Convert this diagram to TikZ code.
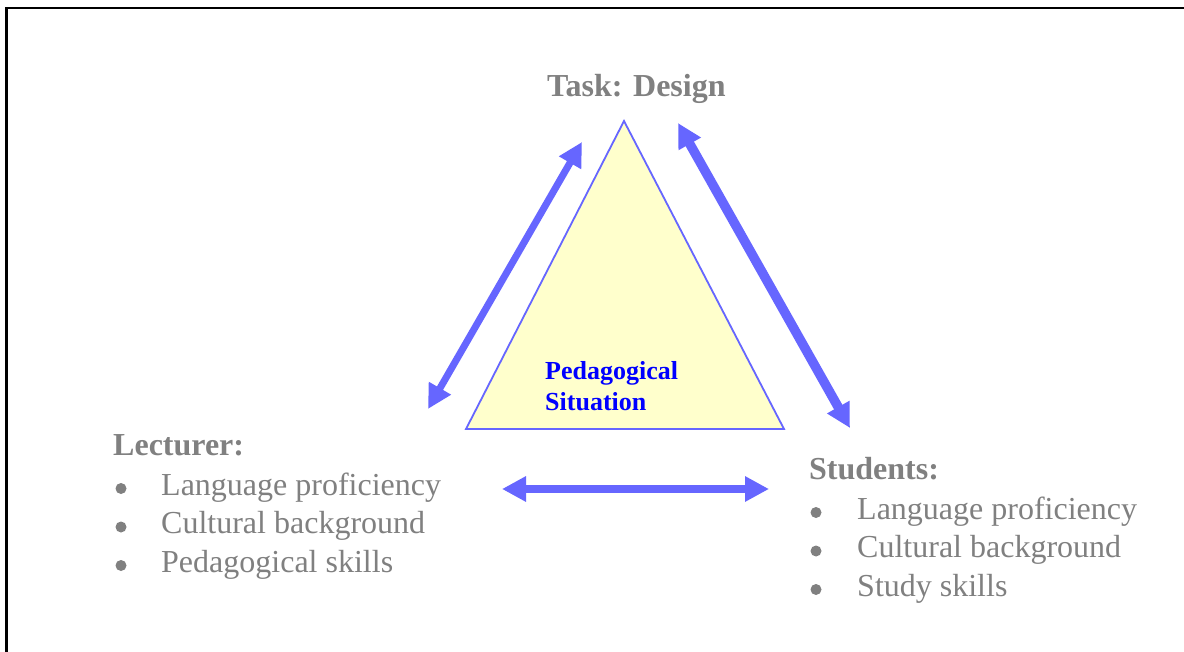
\documentclass[tikz,border=0pt]{standalone}
\usepackage{fontspec}
\setmainfont{Liberation Serif}
\usetikzlibrary{arrows.meta}
\definecolor{arrowblue}{HTML}{6666FF}
\definecolor{trifill}{HTML}{FFFFCC}
\definecolor{txtgray}{HTML}{808080}
\definecolor{txtblue}{HTML}{0000FF}
\tikzset{
  biarrow/.style={draw=arrowblue, line width=8pt, {Triangle[length=24pt,width=24pt]}-{Triangle[length=24pt,width=24pt]}},
  heading/.style={anchor=base west, inner sep=0pt, text=txtgray, font=\fontsize{32}{38}\selectfont\bfseries},
  item/.style={anchor=base west, inner sep=0pt, text=txtgray, font=\fontsize{32}{38}\selectfont},
  bulletmark/.style={circle, fill=txtgray, inner sep=0pt, minimum size=11pt},
  centertext/.style={anchor=base west, inner sep=0pt, text=txtblue, font=\fontsize{26}{30}\selectfont\bfseries, align=left},
}
\begin{document}
\begin{tikzpicture}[x=1pt,y=-1pt]
\useasboundingbox (0,0) rectangle (1184,652);
\fill[white] (0,0) rectangle (1184,652);
% frame (only top and left edges fall inside the picture)
\coordinate (fb) at (6.5,652);
\coordinate (fc) at (6.5,7.8);
\coordinate (fr) at (1184,7.8);
\draw[line width=2.2pt] (fb) -- (fc) -- (fr);
% triangle
\coordinate (apex) at (624,121);
\coordinate (bl) at (466,429);
\coordinate (br) at (784,429);
\draw[draw=arrowblue, fill=trifill, line width=1.8pt, line join=miter] (apex) -- (br) -- (bl) -- cycle;
\node[centertext] (ped) at (545,380) {Pedagogical};
\node[centertext] (sit) at (545,410) {Situation};
% headings
\node[heading] (task) at (547,97) {Task: Design};
\node[heading] (lect) at (113,455.5) {Lecturer:};
\node[heading] (stud) at (809,479) {Students:};
% lecturer items
\node[bulletmark] (lb1) at (121,488.5) {};
\node[item] (li1) at (161,495) {Language proficiency};
\node[bulletmark] (lb2) at (121,527) {};
\node[item] (li2) at (161,533.5) {Cultural background};
\node[bulletmark] (lb3) at (121,565.5) {};
\node[item] (li3) at (161,572) {Pedagogical skills};
% student items
\node[bulletmark] (sb1) at (816,512.5) {};
\node[item] (si1) at (857,519) {Language proficiency};
\node[bulletmark] (sb2) at (816,551) {};
\node[item] (si2) at (857,557.5) {Cultural background};
\node[bulletmark] (sb3) at (816,589.5) {};
\node[item] (si3) at (857,596) {Study skills};
% arrows
\coordinate (la1) at (428,409);
\coordinate (la2) at (582,142);
\coordinate (ra1) at (678,123);
\coordinate (ra2) at (850,428);
\coordinate (ha1) at (502,489);
\coordinate (ha2) at (769,489);
\draw[biarrow, line width=7pt] (la1) -- (la2);
\draw[biarrow, line width=9.5pt] (ra1) -- (ra2);
\draw[biarrow] (ha1) -- (ha2);
\end{tikzpicture}
\end{document}
